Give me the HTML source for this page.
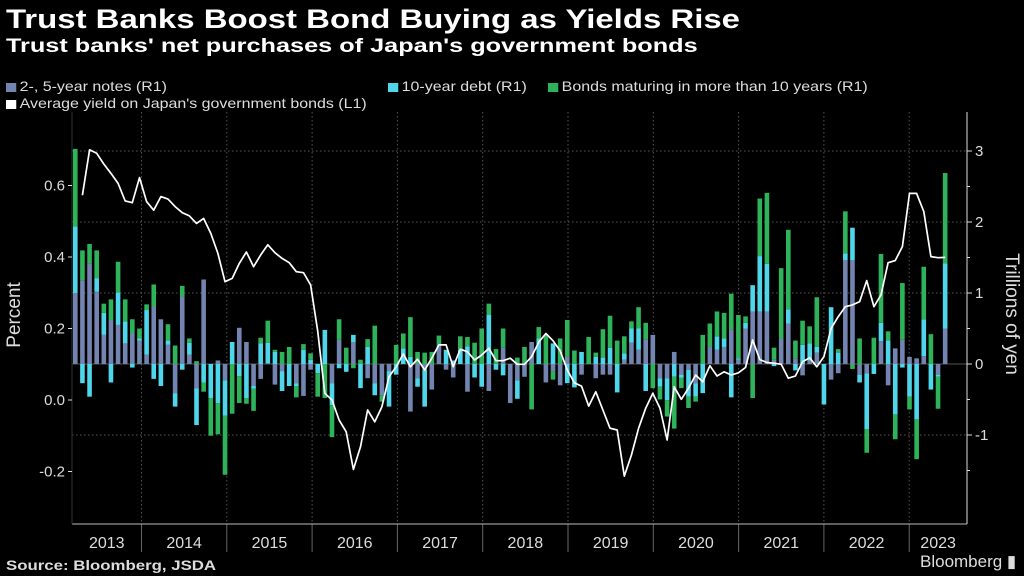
<!DOCTYPE html>
<html><head><meta charset="utf-8">
<style>
html,body{margin:0;padding:0;background:#000;}
body{width:1024px;height:576px;overflow:hidden;position:relative;font-family:"Liberation Sans",sans-serif;color:#fff;}
.t{position:absolute;white-space:nowrap;transform-origin:0 0;}
#title{left:6px;top:4px;font-size:27px;font-weight:bold;transform:scaleX(1.22);}
#sub{left:6px;top:36px;font-size:19px;font-weight:bold;transform:scaleX(1.33);}
.leg{font-size:14px;color:#ddd;transform:scaleX(1.14);}
.sw{display:inline-block;width:9px;height:9px;margin-right:3px;vertical-align:-1px;}
#src{left:6px;top:557px;font-size:14px;font-weight:bold;color:#ddd;transform:scaleX(1.2);}
#bbg{left:920px;top:552px;font-size:17px;color:#ddd;}
svg{position:absolute;left:0;top:0;}
</style></head><body>
<div class="t" id="title">Trust Banks Boost Bond Buying as Yields Rise</div>
<div class="t" id="sub">Trust banks' net purchases of Japan's government bonds</div>
<div class="t leg" style="left:6px;top:78px"><span class="sw" style="background:#7384b0"></span>2-, 5-year notes (R1)</div>
<div class="t leg" style="left:388px;top:78px"><span class="sw" style="background:#4fd6eb"></span>10-year debt (R1)</div>
<div class="t leg" style="left:548px;top:78px"><span class="sw" style="background:#2fb35a"></span>Bonds maturing in more than 10 years (R1)</div>
<div class="t leg" style="left:6px;top:95px"><span class="sw" style="background:#fff"></span>Average yield on Japan's government bonds (L1)</div>
<div class="t" id="src">Source: Bloomberg, JSDA</div>
<div class="t" id="bbg">Bloomberg ▮</div>
<svg id="chart" width="1024" height="576"></svg>
<script>
const years=["2013","2014","2015","2016","2017","2018","2019","2020","2021","2022","2023"];
const leftTicks=[0.6,0.4,0.2,0.0,-0.2];
const rightTicks=[3,2,1,0,-1];
const slate=[1.0,1.18,1.42,1.02,0.41,0.62,0.55,0.29,0.43,0.33,0.13,0.81,0.63,0.27,-0.41,0.95,0.13,-0.34,1.19,0,0.05,-0.23,0,0.51,0.31,-0.31,-0.21,0.01,-0.29,-0.1,0,-0.27,-0.45,-0.08,0,0,-0.27,0.34,0,0.31,0,-0.2,-0.27,-0.44,-0.1,0,0,-0.67,-0.2,-0.08,-0.36,0.27,-0.08,-0.19,0,-0.39,0,0,-0.38,0,0.23,-0.55,-0.23,-0.18,0.31,0,-0.26,-0.1,-0.3,0.1,0,-0.15,0,-0.2,-0.15,-0.15,0,0.06,0.3,0.2,0.35,0.41,-0.2,-0.2,0.17,-0.15,-0.08,-0.27,0,0.24,0.2,0.24,0.48,0.06,0.5,0.74,0.74,0.74,0.06,0.36,0.57,0.08,-0.16,0.05,0.16,0,-0.22,-0.13,1.46,1.46,-0.15,-0.13,0,0.32,-0.3,0.22,0.34,0.1,0.08,0.11,0,-0.15,0.5];
const cyan=[0.94,-0.27,-0.46,0.19,0.31,-0.26,0.46,0.31,-0.05,0.03,0.63,-0.21,-0.31,0.06,-0.19,-0.08,0.17,-0.52,-0.26,-0.48,-0.55,-0.5,0.31,-0.17,-0.48,-0.04,0.29,0.29,0.17,-0.28,-0.31,-0.04,0.2,0.06,-0.13,0.48,-0.31,-0.06,-0.11,0.1,-0.34,0.24,-0.17,0,-0.5,-0.15,0.22,0.1,-0.12,-0.52,0,0,0.2,0.05,0.2,0.25,-0.19,-0.32,0.69,-0.08,-0.16,0,-0.26,0,0,0.36,0,0.29,0,-0.27,-0.33,0.17,0,0.1,0.09,0.23,-0.4,0.09,0.2,0.3,-0.38,0,-0.12,-0.31,-0.18,-0.04,-0.38,-0.19,-0.41,0,0.19,0.12,-0.47,0.02,0.08,0.37,0.78,0.67,-0.03,0,0.2,-0.09,0.27,0.24,0.08,-0.57,0.8,0.16,0.1,0.46,-0.11,-0.79,-0.14,0.26,0.33,-0.71,-0.05,-0.46,-0.78,0.52,-0.36,-0.03,0.92];
const green=[1.09,0.42,0.27,0.39,0.13,0.29,0.43,0.31,0.2,0.14,0.08,0.31,0,0.23,0.26,0.15,0.06,0.04,-0.13,-0.53,-0.44,-0.83,-0.7,-0.38,-0.08,-0.31,0.08,0.31,0.03,0.17,0.24,-0.16,0.08,0.09,-0.33,-0.48,-0.45,0.29,0.23,-0.06,0.06,0.11,0.54,-0.09,0,0.27,0.21,0.56,0.17,0.16,0.17,0.13,0,0,0.19,0.13,0.3,0.5,0.16,0.21,0.27,0,0.09,0.24,-0.64,0.16,0.41,-0.12,0.36,0.52,0.19,0,0.38,0.06,0.4,0.45,0.33,0.24,0.1,0.3,0.23,-0.34,-0.18,-0.23,-0.73,-0.15,-0.16,-0.07,0.41,0.33,0.35,0.36,0.51,0.61,0.09,-0.48,0.81,1.0,0.17,0.99,1.12,0.25,0.34,0.24,0.7,0,0,0.05,0.59,-0.07,0.36,-0.33,0.37,0.97,0.13,-0.35,0.8,-0.18,-0.56,0.74,0.42,-0.45,1.27];
const yieldPct=[null,0.573,0.70,0.69,0.66,0.634,0.606,0.557,0.552,0.622,0.555,0.531,0.569,0.562,0.541,0.524,0.515,0.494,0.508,0.466,0.41,0.331,0.34,0.382,0.414,0.373,0.406,0.434,0.412,0.396,0.384,0.359,0.356,0.322,0.193,0.019,0.0,-0.056,-0.089,-0.194,-0.131,-0.028,-0.061,-0.019,0.065,0.093,0.129,0.093,0.114,0.084,0.117,0.154,0.154,0.093,0.142,0.135,0.112,0.126,0.145,0.11,0.11,0.117,0.1,0.1,0.121,0.162,0.186,0.166,0.138,0.084,0.048,0.039,-0.017,0.023,-0.028,-0.079,-0.084,-0.213,-0.154,-0.079,-0.023,0.019,-0.023,-0.112,0.037,0.002,0.033,0.07,0.051,0.096,0.067,0.079,0.07,0.076,0.091,0.168,0.113,0.105,0.103,0.1,0.061,0.067,0.107,0.118,0.093,0.121,0.2,0.233,0.261,0.266,0.275,0.334,0.261,0.294,0.384,0.39,0.429,0.578,0.578,0.527,0.401,0.398,0.399];

const NS="http://www.w3.org/2000/svg";
const svg=document.getElementById('chart');
function mk(tag,attrs,parent){const e=document.createElementNS(NS,tag);for(const k in attrs)e.setAttribute(k,attrs[k]);(parent||svg).appendChild(e);return e;}
const PL=72,PR=967,PT=112,PB=524;
const firstX=75.3, step=7.13;
const xIdx=i=>firstX+i*step;
const yR=v=>364-v*71;
const yL=v=>400-v*357.5;
const yearStartX=k=>141.5+(k-1)*85.3;

rightTicks.forEach(v=>{const l=mk('line',{x1:PL,x2:PR,y1:yR(v),y2:yR(v),stroke:'#555','stroke-dasharray':v===0?'none':'1.5,2.5','stroke-width':1});
});
for(let k=1;k<years.length;k++){const x=yearStartX(k);
 const g=mk('line',{x1:x,x2:x,y1:PT,y2:PB,stroke:'#555','stroke-dasharray':'1.5,2.5'});
 
 const t=mk('line',{x1:x,x2:x,y1:PB,y2:552,stroke:'#666'});
 }
years.forEach((yr,k)=>{let x0=k===0?PL:yearStartX(k),x1=k===years.length-1?PR:yearStartX(k+1);
 const t=mk('text',{x:(x0+x1)/2,y:548,fill:'#ddd','font-size':16,'text-anchor':'middle','font-family':'Liberation Sans, sans-serif'});t.textContent=yr;
 });

const colors=['#7384b0','#4fd6eb','#2fb35a'];
const series=[slate,cyan,green];
const bw=4.6;
for(let i=0;i<slate.length;i++){let pos=0,neg=0;const x=xIdx(i)-bw/2;
 for(let s=0;s<3;s++){const v=series[s][i];if(!v)continue;let a,b;
  if(v>0){a=pos;b=pos+v;pos=b;}else{a=neg;b=neg+v;neg=b;}
  const y1=yR(Math.max(a,b)),y2=yR(Math.min(a,b));
  const r=mk('rect',{x:x,y:y1,width:bw,height:Math.max(0.5,y2-y1),fill:colors[s]});
  }}

let d='';yieldPct.forEach((v,i)=>{if(v===null)return;d+=(d?'L':'M')+xIdx(i).toFixed(1)+','+yL(v).toFixed(1);});
const ln=mk('path',{d:d,fill:'none',stroke:'#fff','stroke-width':1.7,'stroke-linejoin':'round'});


const xa=mk('line',{x1:PL,x2:PR,y1:PB,y2:PB,stroke:'#bbb'});
const ra=mk('line',{x1:PR,x2:PR,y1:PT,y2:PB,stroke:'#ddd'});
const la=mk('line',{x1:PL,x2:PL,y1:PT,y2:PB,stroke:'#333'});
rightTicks.forEach(v=>{const tk=mk('line',{x1:PR,x2:PR+5,y1:yR(v),y2:yR(v),stroke:'#ddd'});
 const t=mk('text',{x:975,y:yR(v)+5,fill:'#ddd','font-size':15,'font-family':'Liberation Sans, sans-serif'});t.textContent=String(v);
 });
[2.5,1.5,0.5,-0.5,-1.5].forEach(v=>{const tk=mk('line',{x1:PR,x2:PR+3,y1:yR(v),y2:yR(v),stroke:'#ddd'});});
leftTicks.forEach(v=>{const tk=mk('line',{x1:PL-4,x2:PL,y1:yL(v),y2:yL(v),stroke:'#ddd'});
 const t=mk('text',{x:PL-7,y:yL(v)+5,fill:'#ddd','font-size':15,'text-anchor':'end','font-family':'Liberation Sans, sans-serif'});t.textContent=v.toFixed(1);
 });
const lt=mk('text',{x:20,y:315,fill:'#ddd','font-size':19,'text-anchor':'middle',transform:'rotate(-90 20 315)','font-family':'Liberation Sans, sans-serif'});lt.textContent='Percent';

const rt=mk('text',{x:1006,y:314,fill:'#ddd','font-size':19,'text-anchor':'middle',transform:'rotate(90 1006 314)','font-family':'Liberation Sans, sans-serif'});rt.textContent='Trillions of yen';

</script>
</body></html>
